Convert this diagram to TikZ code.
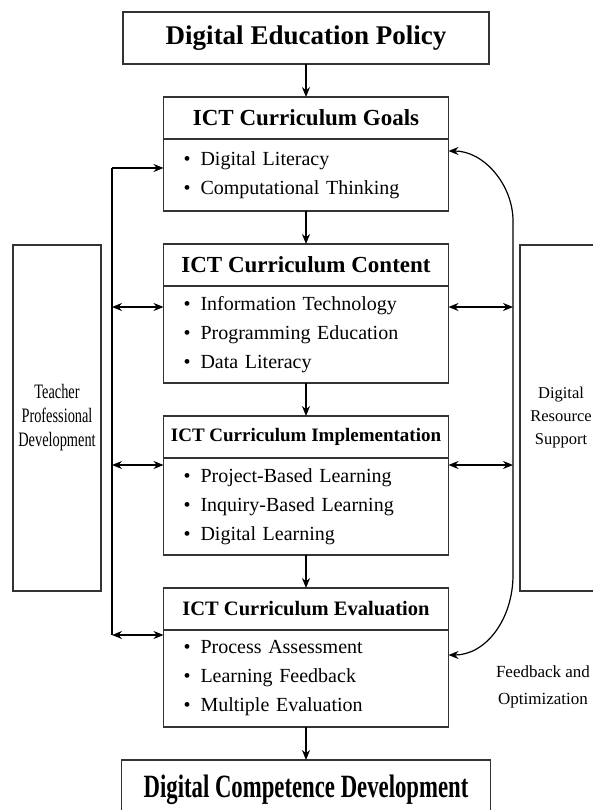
\documentclass[tikz,border=0pt]{standalone}
\usepackage{fontspec}
\setmainfont{Liberation Serif}
\newfontfamily\narrowserif[FakeStretch=0.7]{Liberation Serif}
\usetikzlibrary{positioning,arrows.meta}

\newcommand{\bulletitem}{\textbullet\hspace{10pt}}

\begin{document}
\begin{tikzpicture}[x=1pt,y=-1pt,>={Stealth[length=10pt,width=8pt]},
        line width=1.2pt,node distance=33pt,
        box/.style={draw=black!80,line width=1.1pt,inner sep=0pt,outer sep=0pt},
        head/.style={box,minimum width=285pt,minimum height=42pt,
            font=\fontsize{23}{26}\selectfont\bfseries},
        items/.style={box,minimum width=285pt,text width=245pt,align=left,
            font=\fontsize{20}{29}\selectfont},
        side/.style={box,minimum height=346pt,align=center}]

        \useasboundingbox (0,0) rectangle (592,810);

        % Define boxes
        \node[box,minimum width=366pt,minimum height=52pt,
            font=\fontsize{27}{30}\selectfont\bfseries] (policy) at (306,38) {Digital Education Policy};
        \node[head] (goals) [below=of policy] {ICT Curriculum Goals};
        \node[items,minimum height=72pt] (goalsb) [below=0pt of goals]
            {\bulletitem Digital Literacy\\ \bulletitem Computational Thinking};
        \node[head] (content) [below=of goalsb] {ICT Curriculum Content};
        \node[items,minimum height=97pt] (contentb) [below=0pt of content]
            {\bulletitem Information Technology\\ \bulletitem Programming Education\\ \bulletitem Data Literacy};
        \node[head,font=\fontsize{19}{24}\selectfont\bfseries] (impl) [below=of contentb] {ICT Curriculum Implementation};
        \node[items,minimum height=97pt] (implb) [below=0pt of impl]
            {\bulletitem Project-Based Learning\\ \bulletitem Inquiry-Based Learning\\ \bulletitem Digital Learning};
        \node[head,font=\fontsize{20.5}{24}\selectfont\bfseries] (eval) [below=of implb] {ICT Curriculum Evaluation};
        \node[items,minimum height=97pt] (evalb) [below=0pt of eval]
            {\bulletitem Process Assessment\\ \bulletitem Learning Feedback\\ \bulletitem Multiple Evaluation};
        \node[box,minimum width=369pt,minimum height=60pt,
            font=\narrowserif\fontsize{32.5}{36}\selectfont\bfseries] (comp) [below=of evalb] {Digital Competence Development};

        \node[side,minimum width=88pt,font=\narrowserif\fontsize{20.5}{24}\selectfont]
            (teacher) at (57,418) {Teacher\\Professional\\Development};
        \node[side,minimum width=82pt,font=\fontsize{16.5}{23}\selectfont]
            (resource) at (561,418) {Digital\\Resource\\Support};
        \node[align=center,font=\fontsize{17}{27}\selectfont] (fbtext) at (543,687) {Feedback and\\Optimization};

        % Bus lines
        \coordinate (ltop) at (112,168);
        \coordinate (lc) at (112,307);
        \coordinate (li) at (112,465);
        \coordinate (lbot) at (112,635);
        \coordinate (rc) at (513,307);
        \coordinate (ri) at (513,465);
        \coordinate (fbtop) at (513,151);
        \coordinate (fbbot) at (513,655);

        % Draw arrows
        \path[->]
            (policy) edge (goals)
            (goalsb) edge (content)
            (contentb) edge (impl)
            (implb) edge (eval)
            (evalb) edge (comp);

        \draw (ltop) -- (lbot);
        \draw[->] (ltop) -- (goalsb.west |- ltop);
        \draw[<->] (lc) -- (contentb.west |- lc);
        \draw[<->] (li) -- (implb.west |- li);
        \draw[<->] (lbot) -- (evalb.west |- lbot);

        \draw[<->] (contentb.east |- rc) -- (rc);
        \draw[<->] (implb.east |- ri) -- (ri);
        \draw[<->] (goalsb.east |- fbtop) .. controls (484,151) and (513,185) .. (513,221)
            -- (513,575) .. controls (513,619) and (486,655) .. (evalb.east |- fbbot);

\end{tikzpicture}
\end{document}
